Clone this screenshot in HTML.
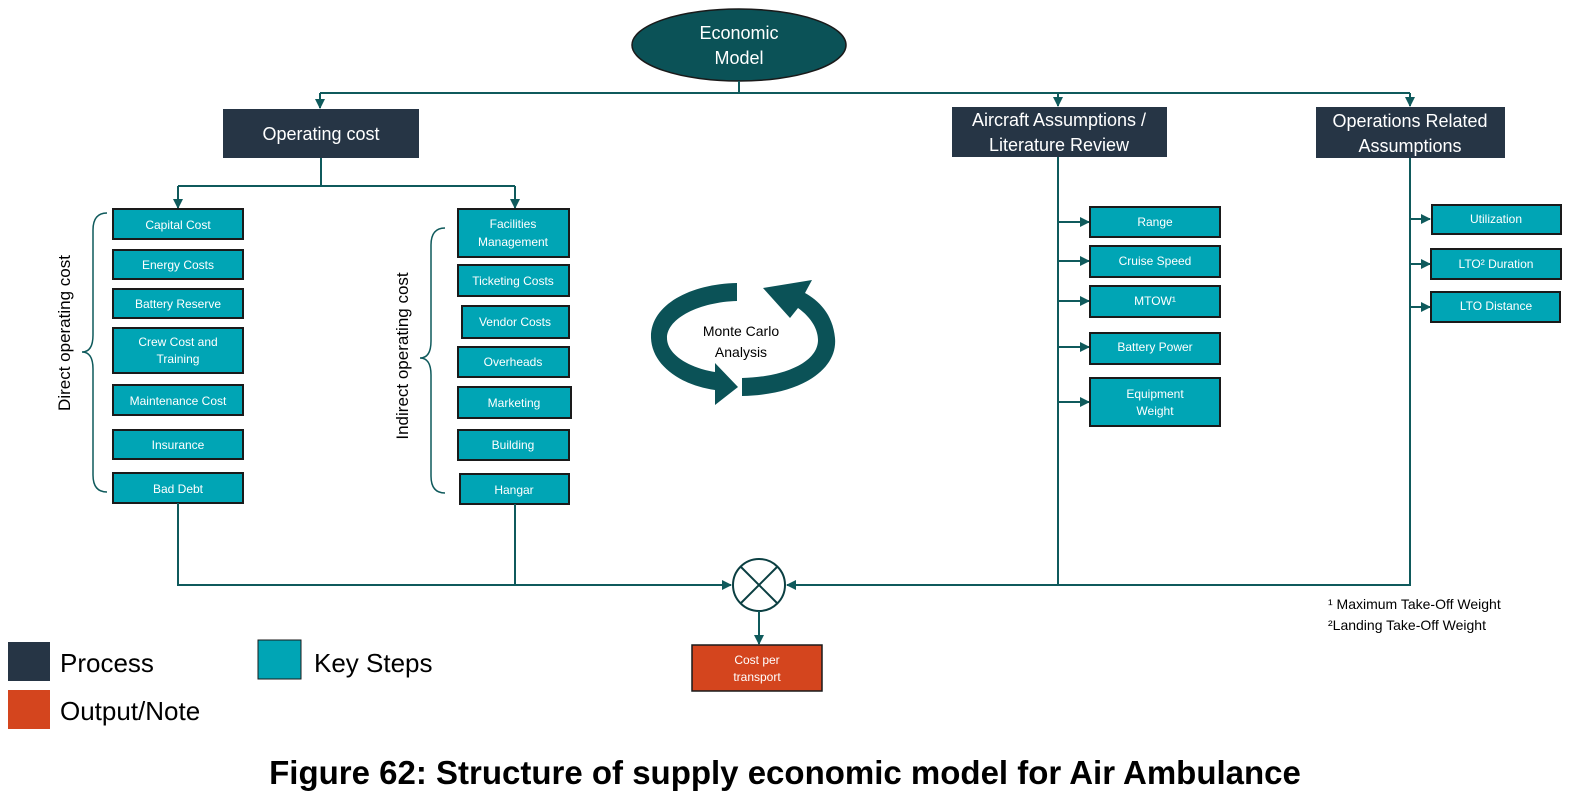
<!DOCTYPE html>
<html><head><meta charset="utf-8"><style>
html,body{margin:0;padding:0;background:#fff;width:1594px;height:812px;overflow:hidden}
svg text{font-family:"Liberation Sans",sans-serif}
.k{fill:#00a5b5;stroke:#1a1a1a;stroke-width:2}
.kt{fill:#fff;font-size:12px;text-anchor:middle}
.ln{stroke:#0f5a5c;stroke-width:2;fill:none}
</style></head><body>
<svg width="1594" height="812" viewBox="0 0 1594 812">
<defs><marker id="a" markerWidth="10" markerHeight="10" refX="9" refY="5" orient="auto" markerUnits="userSpaceOnUse"><path d="M0,0 L10,5 L0,10z" fill="#0f5a5c"/></marker></defs>

<ellipse cx="739" cy="45" rx="107" ry="36" fill="#0b5257" stroke="#1a1a1a" stroke-width="1.5"/>
<text x="739" y="39" fill="#fff" font-size="18" text-anchor="middle">Economic</text>
<text x="739" y="64" fill="#fff" font-size="18" text-anchor="middle">Model</text>
<path class="ln" d="M739,81 V93 M320,93 H1410"/>
<path class="ln" d="M320,93 V108" marker-end="url(#a)"/>
<path class="ln" d="M1058,93 V106" marker-end="url(#a)"/>
<path class="ln" d="M1410,93 V106" marker-end="url(#a)"/>

<rect x="223" y="109" width="196" height="49" fill="#263545"/>
<text x="321" y="140" fill="#fff" font-size="18" text-anchor="middle">Operating cost</text>
<rect x="952" y="107" width="215" height="50" fill="#263545"/>
<text x="1059" y="126" fill="#fff" font-size="18" text-anchor="middle">Aircraft Assumptions /</text>
<text x="1059" y="151" fill="#fff" font-size="18" text-anchor="middle">Literature Review</text>
<rect x="1316" y="107" width="189" height="51" fill="#263545"/>
<text x="1410" y="127" fill="#fff" font-size="18" text-anchor="middle">Operations Related</text>
<text x="1410" y="152" fill="#fff" font-size="18" text-anchor="middle">Assumptions</text>

<path class="ln" d="M321,158 V186 H515 M178,186 H321"/>
<path class="ln" d="M178,186 V208" marker-end="url(#a)"/>
<path class="ln" d="M515,186 V208" marker-end="url(#a)"/>

<rect class="k" x="113" y="209" width="130" height="30"/><text class="kt" x="178" y="229">Capital Cost</text>
<rect class="k" x="113" y="250" width="130" height="29"/><text class="kt" x="178" y="269">Energy Costs</text>
<rect class="k" x="113" y="289" width="130" height="29"/><text class="kt" x="178" y="308">Battery Reserve</text>
<rect class="k" x="113" y="328" width="130" height="45"/><text class="kt" x="178" y="346">Crew Cost and</text><text class="kt" x="178" y="363">Training</text>
<rect class="k" x="113" y="385" width="130" height="30"/><text class="kt" x="178" y="405">Maintenance Cost</text>
<rect class="k" x="113" y="430" width="130" height="29"/><text class="kt" x="178" y="449">Insurance</text>
<rect class="k" x="113" y="473" width="130" height="30"/><text class="kt" x="178" y="493">Bad Debt</text>
<path d="M107,213 Q93,213 93,230 V335 Q93,352 82,352 Q93,352 93,369 V475 Q93,492 107,492" fill="none" stroke="#0f5a5c" stroke-width="1.5"/>
<text transform="translate(70,333) rotate(-90)" font-size="17" text-anchor="middle">Direct operating cost</text>

<rect class="k" x="458" y="209" width="111" height="48"/><text class="kt" x="513" y="228">Facilities</text><text class="kt" x="513" y="246">Management</text>
<rect class="k" x="458" y="265" width="111" height="31"/><text class="kt" x="513" y="285">Ticketing Costs</text>
<rect class="k" x="462" y="306" width="107" height="32"/><text class="kt" x="515" y="326">Vendor Costs</text>
<rect class="k" x="458" y="347" width="111" height="30"/><text class="kt" x="513" y="366">Overheads</text>
<rect class="k" x="458" y="387" width="113" height="31"/><text class="kt" x="514" y="407">Marketing</text>
<rect class="k" x="458" y="430" width="111" height="30"/><text class="kt" x="513" y="449">Building</text>
<rect class="k" x="460" y="474" width="109" height="30"/><text class="kt" x="514" y="494">Hangar</text>
<path d="M445,228 Q431,228 431,245 V341 Q431,358 420,358 Q431,358 431,375 V476 Q431,493 445,493" fill="none" stroke="#0f5a5c" stroke-width="1.5"/>
<text transform="translate(408,356) rotate(-90)" font-size="17" text-anchor="middle">Indirect operating cost</text>

<!-- monte carlo -->
<path d="M737,283 C690,284 650,305 651,338 C652,365 680,385 715,390 L715,405 L738,387 L715,363 L715,372 C690,368 667,355 667,338 C667,318 700,302 737,301 Z" fill="#0b5257"/>
<path d="M742,396 C800,395 838,370 835,338 C833,314 818,300 805,293 L812,280 L763,288 L790,318 L798,308 C812,318 818,330 818,340 C818,362 785,377 742,378 Z" fill="#0b5257"/>
<text x="741" y="336" font-size="14" text-anchor="middle">Monte Carlo</text>
<text x="741" y="357" font-size="14" text-anchor="middle">Analysis</text>

<path class="ln" d="M1058,157 V585 H787" marker-end="url(#a)"/>
<path class="ln" d="M1058,222 H1089" marker-end="url(#a)"/>
<path class="ln" d="M1058,261 H1089" marker-end="url(#a)"/>
<path class="ln" d="M1058,301 H1089" marker-end="url(#a)"/>
<path class="ln" d="M1058,347 H1089" marker-end="url(#a)"/>
<path class="ln" d="M1058,402 H1089" marker-end="url(#a)"/>
<rect class="k" x="1090" y="207" width="130" height="30"/><text class="kt" x="1155" y="226">Range</text>
<rect class="k" x="1090" y="246" width="130" height="31"/><text class="kt" x="1155" y="265">Cruise Speed</text>
<rect class="k" x="1090" y="286" width="130" height="31"/><text class="kt" x="1155" y="305">MTOW¹</text>
<rect class="k" x="1090" y="333" width="130" height="31"/><text class="kt" x="1155" y="351">Battery Power</text>
<rect class="k" x="1090" y="378" width="130" height="48"/><text class="kt" x="1155" y="398">Equipment</text><text class="kt" x="1155" y="415">Weight</text>

<path class="ln" d="M1410,158 V585 H1058"/>
<path class="ln" d="M1410,219 H1430" marker-end="url(#a)"/>
<path class="ln" d="M1410,264 H1430" marker-end="url(#a)"/>
<path class="ln" d="M1410,307 H1430" marker-end="url(#a)"/>
<rect class="k" x="1432" y="205" width="129" height="29"/><text class="kt" x="1496" y="223">Utilization</text>
<rect class="k" x="1431" y="249" width="130" height="30"/><text class="kt" x="1496" y="268">LTO² Duration</text>
<rect class="k" x="1431" y="292" width="129" height="30"/><text class="kt" x="1496" y="310">LTO Distance</text>
<text x="1328" y="609" font-size="14">¹ Maximum Take-Off Weight</text>
<text x="1328" y="630" font-size="14">²Landing Take-Off Weight</text>

<path class="ln" d="M178,503 V585 H731" marker-end="url(#a)"/>
<path class="ln" d="M515,504 V585"/>
<circle cx="759" cy="585" r="26" fill="#fff" stroke="#0b3f42" stroke-width="2"/>
<path d="M741,567 L777,603 M777,567 L741,603" stroke="#0b3f42" stroke-width="2"/>
<path class="ln" d="M759,611 V644" marker-end="url(#a)"/>
<rect x="692" y="645" width="130" height="46" fill="#d4451e" stroke="#1a1a1a" stroke-width="1.5"/>
<text x="757" y="664" fill="#fff" font-size="12" text-anchor="middle">Cost per</text>
<text x="757" y="681" fill="#fff" font-size="12" text-anchor="middle">transport</text>

<rect x="8" y="642" width="42" height="39" fill="#263545"/>
<text x="60" y="672" font-size="26">Process</text>
<rect x="258" y="640" width="43" height="39" fill="#00a5b5" stroke="#1a1a1a" stroke-width="1"/>
<text x="314" y="672" font-size="26">Key Steps</text>
<rect x="8" y="690" width="42" height="39" fill="#d4451e"/>
<text x="60" y="720" font-size="26">Output/Note</text>

<text x="785" y="784" font-size="33" font-weight="bold" text-anchor="middle">Figure 62: Structure of supply economic model for Air Ambulance</text>
</svg>
</body></html>
